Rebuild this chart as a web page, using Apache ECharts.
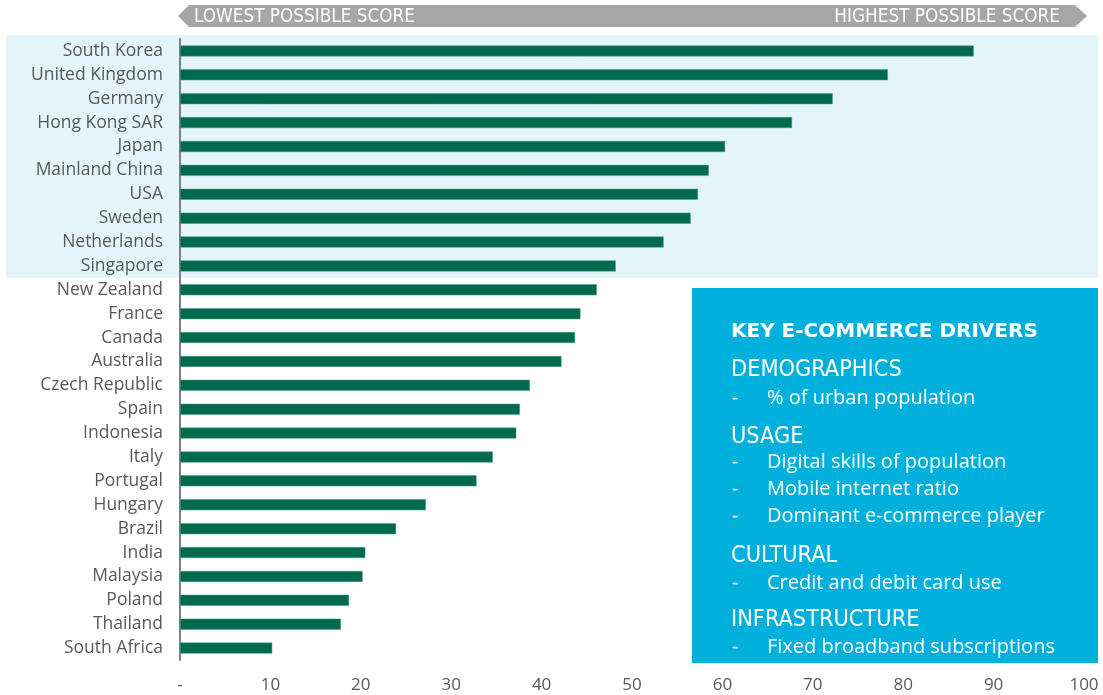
<!DOCTYPE html>
<html>
<head>
<meta charset="utf-8">
<script src="https://cdn.jsdelivr.net/npm/echarts@6/dist/echarts.min.js"></script>
<style>
  html, body { margin: 0; padding: 0; background: #fff; }
  #chart { width: 1103px; height: 695px; }
</style>
</head>
<body>
<div id="chart"></div>
<script>
// E-commerce readiness score by market (0–100)
const countries = [
  'South Korea', 'United Kingdom', 'Germany', 'Hong Kong SAR', 'Japan',
  'Mainland China', 'USA', 'Sweden', 'Netherlands', 'Singapore',
  'New Zealand', 'France', 'Canada', 'Australia', 'Czech Republic',
  'Spain', 'Indonesia', 'Italy', 'Portugal', 'Hungary',
  'Brazil', 'India', 'Malaysia', 'Poland', 'Thailand', 'South Africa'
];
const scores = [
  87.8, 78.3, 72.2, 67.7, 60.3,
  58.5, 57.3, 56.5, 53.5, 48.2,
  46.1, 44.3, 43.7, 42.2, 38.7,
  37.6, 37.2, 34.6, 32.8, 27.2,
  23.9, 20.5, 20.2, 18.7, 17.8, 10.2
];
const topGroupSize = 10;   // leading markets shaded in the background band
const axisTicks = [0, 10, 20, 30, 40, 50, 60, 70, 80, 90, 100];
const scaleLabels = ['LOWEST POSSIBLE SCORE', 'HIGHEST POSSIBLE SCORE'];

// Driver panel: headings and their bullet items
const driverTitle = 'KEY E-COMMERCE DRIVERS';
const driverHeadings = ['DEMOGRAPHICS', 'USAGE', 'CULTURAL', 'INFRASTRUCTURE'];
const driverItems = [
  ['% of urban population'],
  ['Digital skills of population', 'Mobile internet ratio', 'Dominant e-commerce player'],
  ['Credit and debit card use'],
  ['Fixed broadband subscriptions']
];

const FONT = "'Open Sans', Lato, sans-serif";
const CONDENSED = "'DejaVu Sans Condensed', 'DejaVu Sans', sans-serif";
const GREY_TEXT = '#595959';

const chart = echarts.init(document.getElementById('chart'), null, { renderer: 'canvas' });

const option = {
  animation: false,
  backgroundColor: '#ffffff',
  grid: { left: 180, right: 19, top: 39, bottom: 35, containLabel: false },
  xAxis: {
    type: 'value',
    min: axisTicks[0],
    max: axisTicks[axisTicks.length - 1],
    interval: 10,
    axisLine: { show: false },
    axisTick: { show: false },
    splitLine: { show: false },
    axisLabel: {
      color: GREY_TEXT,
      fontFamily: FONT,
      fontSize: 17,
      margin: 17,
      formatter: v => (v === 0 ? '-' : String(v))
    }
  },
  yAxis: {
    type: 'category',
    inverse: true,
    data: countries,
    axisLine: { show: true, lineStyle: { color: '#808080', width: 2 } },
    axisTick: { show: false },
    axisLabel: {
      color: GREY_TEXT,
      fontFamily: FONT,
      fontSize: 17.5,
      margin: 17,
      padding: [6, 0, 0, 0]
    }
  },
  series: [{
    type: 'bar',
    data: scores,
    barWidth: 11,
    itemStyle: { color: '#006A4E', borderColor: '#4d9c86', borderWidth: 0.5 },
    z: 3
  }]
};

chart.setOption(option);

// Decorations placed from the chart's own coordinate system
function drawDecorations() {
  const x0 = chart.convertToPixel({ xAxisIndex: 0 }, 0);
  const x100 = chart.convertToPixel({ xAxisIndex: 0 }, 100);
  const firstY = chart.convertToPixel({ yAxisIndex: 0 }, countries[0]);
  const secondY = chart.convertToPixel({ yAxisIndex: 0 }, countries[1]);
  const step = secondY - firstY;
  const bandTop = firstY - step / 2 - 4;
  const bandBottom = chart.convertToPixel({ yAxisIndex: 0 }, countries[topGroupSize - 1]) + step / 2;

  const elements = [];

  // shaded band behind the leading markets
  elements.push({
    type: 'rect', z: -10, silent: true,
    shape: { x: 6, y: bandTop, width: 1092, height: bandBottom - bandTop },
    style: { fill: '#E3F5FA' }
  });

  // score direction banner
  const bTop = 5, bBot = 27, bMid = (bTop + bBot) / 2;
  elements.push({
    type: 'polygon', silent: true, z: 1,
    shape: { points: [
      [x0 - 2, bMid], [x0 + 9, bTop], [x100 - 9, bTop],
      [x100 + 3, bMid], [x100 - 9, bBot], [x0 + 9, bBot]
    ] },
    style: { fill: '#A6A6A6' }
  });
  elements.push({
    type: 'text', z: 2, silent: true,
    style: { x: x0 + 14, y: bMid + 1, text: scaleLabels[0], fill: '#ffffff',
      font: "18.8px " + CONDENSED, textVerticalAlign: 'middle' }
  });
  elements.push({
    type: 'text', z: 2, silent: true,
    style: { x: x100 - 24, y: bMid + 1, text: scaleLabels[1], fill: '#ffffff', textAlign: 'right',
      font: "18.8px " + CONDENSED, textVerticalAlign: 'middle' }
  });

  // driver panel
  const px = 692, py = 288, pw = 406, ph = 375;
  elements.push({
    type: 'rect', z: 5, silent: true,
    shape: { x: px, y: py, width: pw, height: ph },
    style: { fill: '#00B0DC' }
  });
  const tx = 731, bulletX = 732, itemX = 767;
  elements.push({
    type: 'text', z: 6, silent: true,
    style: { x: tx, y: 332, text: driverTitle, fill: '#ffffff',
      font: "bold 20px 'DejaVu Sans', sans-serif", textVerticalAlign: 'middle' }
  });
  const headingYs = [370, 437, 556, 620];
  const itemYs = [[398], [462, 489, 516], [583], [647]];
  driverHeadings.forEach((h, i) => {
    elements.push({
      type: 'text', z: 6, silent: true,
      style: { x: tx, y: headingYs[i], text: h, fill: '#ffffff',
        font: "23.3px " + CONDENSED, textVerticalAlign: 'middle' }
    });
    driverItems[i].forEach((item, j) => {
      const y = itemYs[i][j];
      elements.push({
        type: 'text', z: 6, silent: true,
        style: { x: bulletX, y: y, text: '-', fill: '#ffffff',
          font: "20px " + FONT, textVerticalAlign: 'middle' }
      });
      elements.push({
        type: 'text', z: 6, silent: true,
        style: { x: itemX, y: y, text: item, fill: '#ffffff',
          font: "20px " + FONT, textVerticalAlign: 'middle' }
      });
    });
  });

  chart.setOption({ graphic: { elements: elements } });
}

drawDecorations();
</script>
</body>
</html>
